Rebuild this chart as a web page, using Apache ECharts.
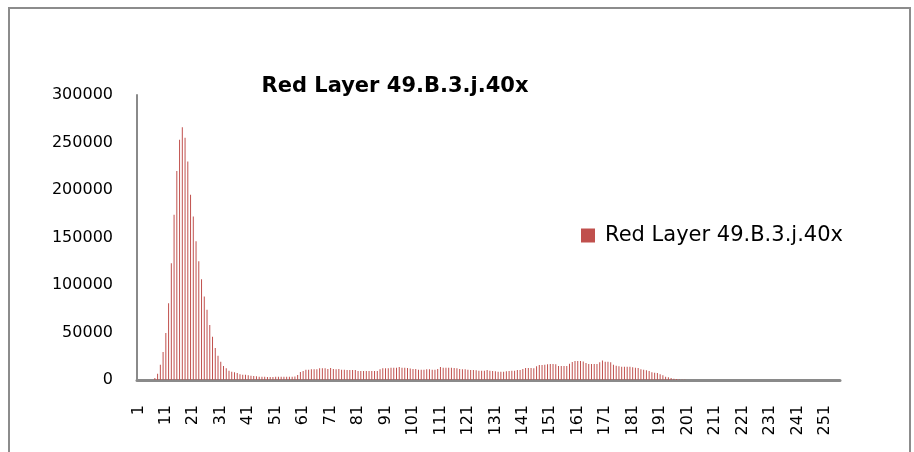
<!DOCTYPE html>
<html>
<head>
<meta charset="utf-8">
<script src="https://cdn.jsdelivr.net/npm/echarts@6/dist/echarts.min.js"></script>
<style>
html,body{margin:0;padding:0;background:#fff;}
#chart{width:914px;height:452px;}
</style>
</head>
<body>
<div id="chart"></div>
<script>
const seriesName = 'Red Layer 49.B.3.j.40x';
const titleText = 'Red Layer 49.B.3.j.40x';
const yTicks = [0, 50000, 100000, 150000, 200000, 250000, 300000];
const categories = Array.from({length: 256}, (_, i) => String(i + 1));
const values = [
  0, 0, 0, 0, 0, 0, 2000, 6700, 16000, 29500,
  49500, 80700, 123000, 174000, 220000, 253000, 266000, 255000, 230000, 195000,
  172000, 146000, 125000, 106000, 88000, 74000, 58000, 45600, 33700, 25600,
  19300, 14700, 12300, 9800, 8800, 8100, 7400, 6000, 5600, 5600,
  4900, 4600, 4200, 3900, 3500, 3400, 3300, 3200, 3200, 3200,
  3300, 3500, 3300, 3400, 3500, 3400, 3400, 3600, 5300, 8400,
  9500, 10900, 10900, 11200, 11200, 11200, 12300, 12300, 12300, 11600,
  12600, 11600, 11200, 11600, 10900, 10900, 10500, 10500, 10500, 10500,
  9500, 9500, 9600, 9500, 9400, 9500, 9500, 9500, 11200, 12300,
  12300, 12300, 13000, 13000, 13000, 13700, 13000, 13000, 12600, 12000,
  11600, 11600, 10900, 10900, 10900, 11200, 11200, 10900, 10900, 11600,
  13700, 13000, 13000, 13000, 13000, 12600, 12300, 11600, 11200, 11200,
  10900, 10500, 10500, 10200, 9800, 9800, 9800, 10500, 9800, 9500,
  9100, 8800, 8800, 8800, 9100, 9500, 9800, 9800, 10500, 10500,
  11600, 12600, 12600, 12600, 12300, 14400, 15800, 15800, 16100, 16500,
  16800, 16800, 16500, 14700, 14700, 14700, 14700, 17200, 18900, 20000,
  20000, 20000, 19600, 17900, 16800, 16800, 16800, 16800, 18600, 20400,
  19300, 19300, 18600, 16100, 15100, 14400, 14000, 14000, 14000, 14000,
  13300, 13000, 12600, 11200, 10900, 10200, 9500, 8100, 7700, 7400,
  6000, 4900, 3500, 2800, 2100, 1400, 1000, 500, 300, 200,
  0, 0, 0, 0, 0, 0, 0, 0, 0, 0,
  0, 0, 0, 0, 0, 0, 0, 0, 0, 0,
  0, 0, 0, 0, 0, 0, 0, 0, 0, 0,
  0, 0, 0, 0, 0, 0, 0, 0, 0, 0,
  0, 0, 0, 0, 0, 0, 0, 0, 0, 0,
  0, 0, 0, 0, 0, 0
];

const FONT = '"DejaVu Sans", sans-serif';
const chart = echarts.init(document.getElementById('chart'), null, {renderer: 'canvas'});
chart.setOption({
  animation: false,
  backgroundColor: '#ffffff',
  graphic: [{
    type: 'rect',
    shape: {x: 9, y: 8, width: 901, height: 470},
    style: {fill: 'none', stroke: '#8c8c8c', lineWidth: 2},
    silent: true
  }],
  title: {
    text: titleText,
    left: 390,
    top: 71,
    textAlign: 'center',
    textStyle: {fontFamily: FONT, fontSize: 21, fontWeight: 'bold', color: '#000'}
  },
  legend: {
    data: [seriesName],
    left: 576,
    top: 220,
    icon: 'rect',
    itemWidth: 14,
    itemHeight: 14,
    textStyle: {fontFamily: FONT, fontSize: 21, color: '#000', padding: [0, 0, 0, 5]}
  },
  grid: {left: 137, right: 74, top: 95, bottom: 72, containLabel: false},
  xAxis: {
    type: 'category',
    data: categories,
    boundaryGap: true,
    axisLine: {lineStyle: {color: '#8a8a8a', width: 3}},
    axisTick: {show: false},
    axisLabel: {
      interval: 9,
      rotate: 90,
      margin: 25,
      fontFamily: FONT,
      fontSize: 16,
      color: '#000'
    },
    splitLine: {show: false}
  },
  yAxis: {
    type: 'value',
    min: yTicks[0],
    max: yTicks[yTicks.length - 1],
    interval: yTicks[1] - yTicks[0],
    axisLine: {show: true, lineStyle: {color: '#8a8a8a', width: 2}},
    axisTick: {show: false},
    axisLabel: {margin: 24, fontFamily: FONT, fontSize: 16, color: '#000', formatter: (v) => String(v)},
    splitLine: {show: false}
  },
  series: [{
    name: seriesName,
    type: 'bar',
    data: values,
    barWidth: 1,
    itemStyle: {color: '#C0504D'}
  }]
});
</script>
</body>
</html>
